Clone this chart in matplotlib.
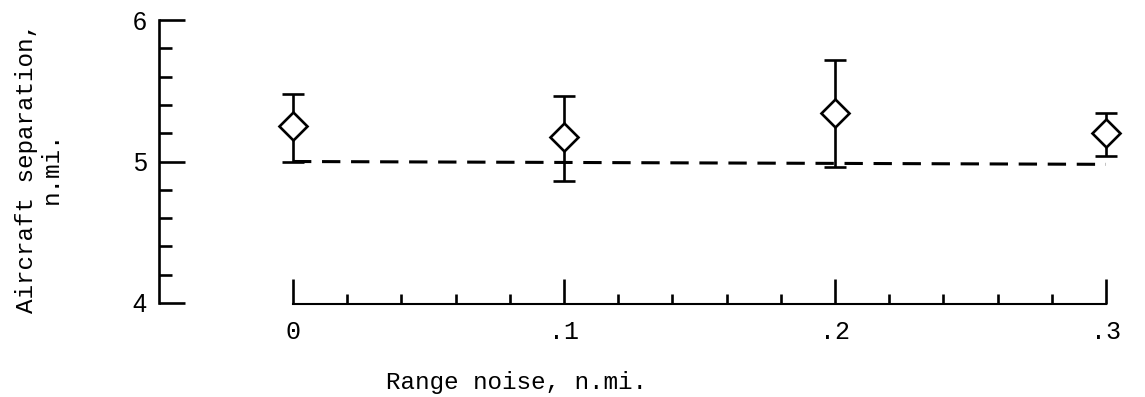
import matplotlib.pyplot as plt
from matplotlib.ticker import MultipleLocator, FixedLocator

# data
noise = [0.0, 0.1, 0.2, 0.3]
separation = [5.25, 5.17, 5.34, 5.20]
err_low = [5.00, 4.86, 4.96, 5.04]
err_high = [5.48, 5.46, 5.72, 5.34]
ref_x = [0.0, 0.3]
ref_y = [5.00, 4.98]
yticks = [4, 5, 6]
xticks = [0.0, 0.1, 0.2, 0.3]
xtick_labels = ['0', '.1', '.2', '.3']

W, H = 1145, 397
fig = plt.figure(figsize=(W / 100, H / 100), dpi=100)
fig.patch.set_facecolor('white')

# axes placed in pixel terms: y spine at x=159px, y=4 at 303px, y=6 at 20px
left_px, right_px = 159, 1140
bot_px, top_px = H - 303, H - 20
ax = fig.add_axes([left_px / W, bot_px / H, (right_px - left_px) / W, (top_px - bot_px) / H])

px_per_x = (1106 - 293) / 0.3
x_lo = -(293 - left_px) / px_per_x
x_hi = 0.3 + (right_px - 1106) / px_per_x
ax.set_xlim(x_lo, x_hi)
ax.set_ylim(4, 6)

lw = 1.9
yerr = [[s - l for s, l in zip(separation, err_low)],
        [h - s for s, h in zip(separation, err_high)]]
ax.errorbar(noise, separation, yerr=yerr, fmt='none', ecolor='black',
            elinewidth=lw, capsize=8, capthick=lw, zorder=2, clip_on=False)
ax.plot(noise, separation, linestyle='none', marker='D', markersize=14,
        markerfacecolor='white', markeredgecolor='black', markeredgewidth=lw,
        zorder=3, clip_on=False)
ax.plot(ref_x, ref_y, color='black', linewidth=2.2, dashes=(6, 3.5), zorder=1)

for s in ['top', 'right']:
    ax.spines[s].set_visible(False)
ax.spines['left'].set_bounds(4, 6)
ax.spines['left'].set_linewidth(lw)
ax.spines['bottom'].set_bounds(0, 0.3)
ax.spines['bottom'].set_position(('data', 3.99))
ax.spines['bottom'].set_linewidth(1.5)

ax.yaxis.set_major_locator(FixedLocator(yticks))
ax.yaxis.set_minor_locator(MultipleLocator(0.2))
ax.xaxis.set_major_locator(FixedLocator(xticks))
ax.xaxis.set_minor_locator(FixedLocator([i * 0.02 for i in range(16)]))
ax.set_xticklabels(xtick_labels)

ax.tick_params(axis='y', which='major', direction='in', length=19, width=lw, pad=9,
               labelsize=18)
ax.tick_params(axis='y', which='minor', direction='in', length=9, width=lw)
ax.tick_params(axis='x', which='major', direction='in', length=18, width=lw, pad=11,
               labelsize=18)
ax.tick_params(axis='x', which='minor', direction='in', length=7, width=lw)

for t in ax.get_yticklabels():
    t.set_fontfamily('Liberation Sans')
for t in ax.get_xticklabels():
    t.set_fontfamily('Liberation Mono')

fig.text(517 / W, 1 - 382 / H, 'Range noise, n.mi.', ha='center', va='center',
         fontsize=17.5, fontfamily='Liberation Mono')
fig.text(39 / W, 1 - 168 / H, 'Aircraft separation,\nn.mi.', ha='center', va='center',
         rotation=90, fontsize=17.5, fontfamily='Liberation Mono',
         multialignment='center', linespacing=1.1)

fig.savefig('out.png', dpi=100, facecolor='white')
